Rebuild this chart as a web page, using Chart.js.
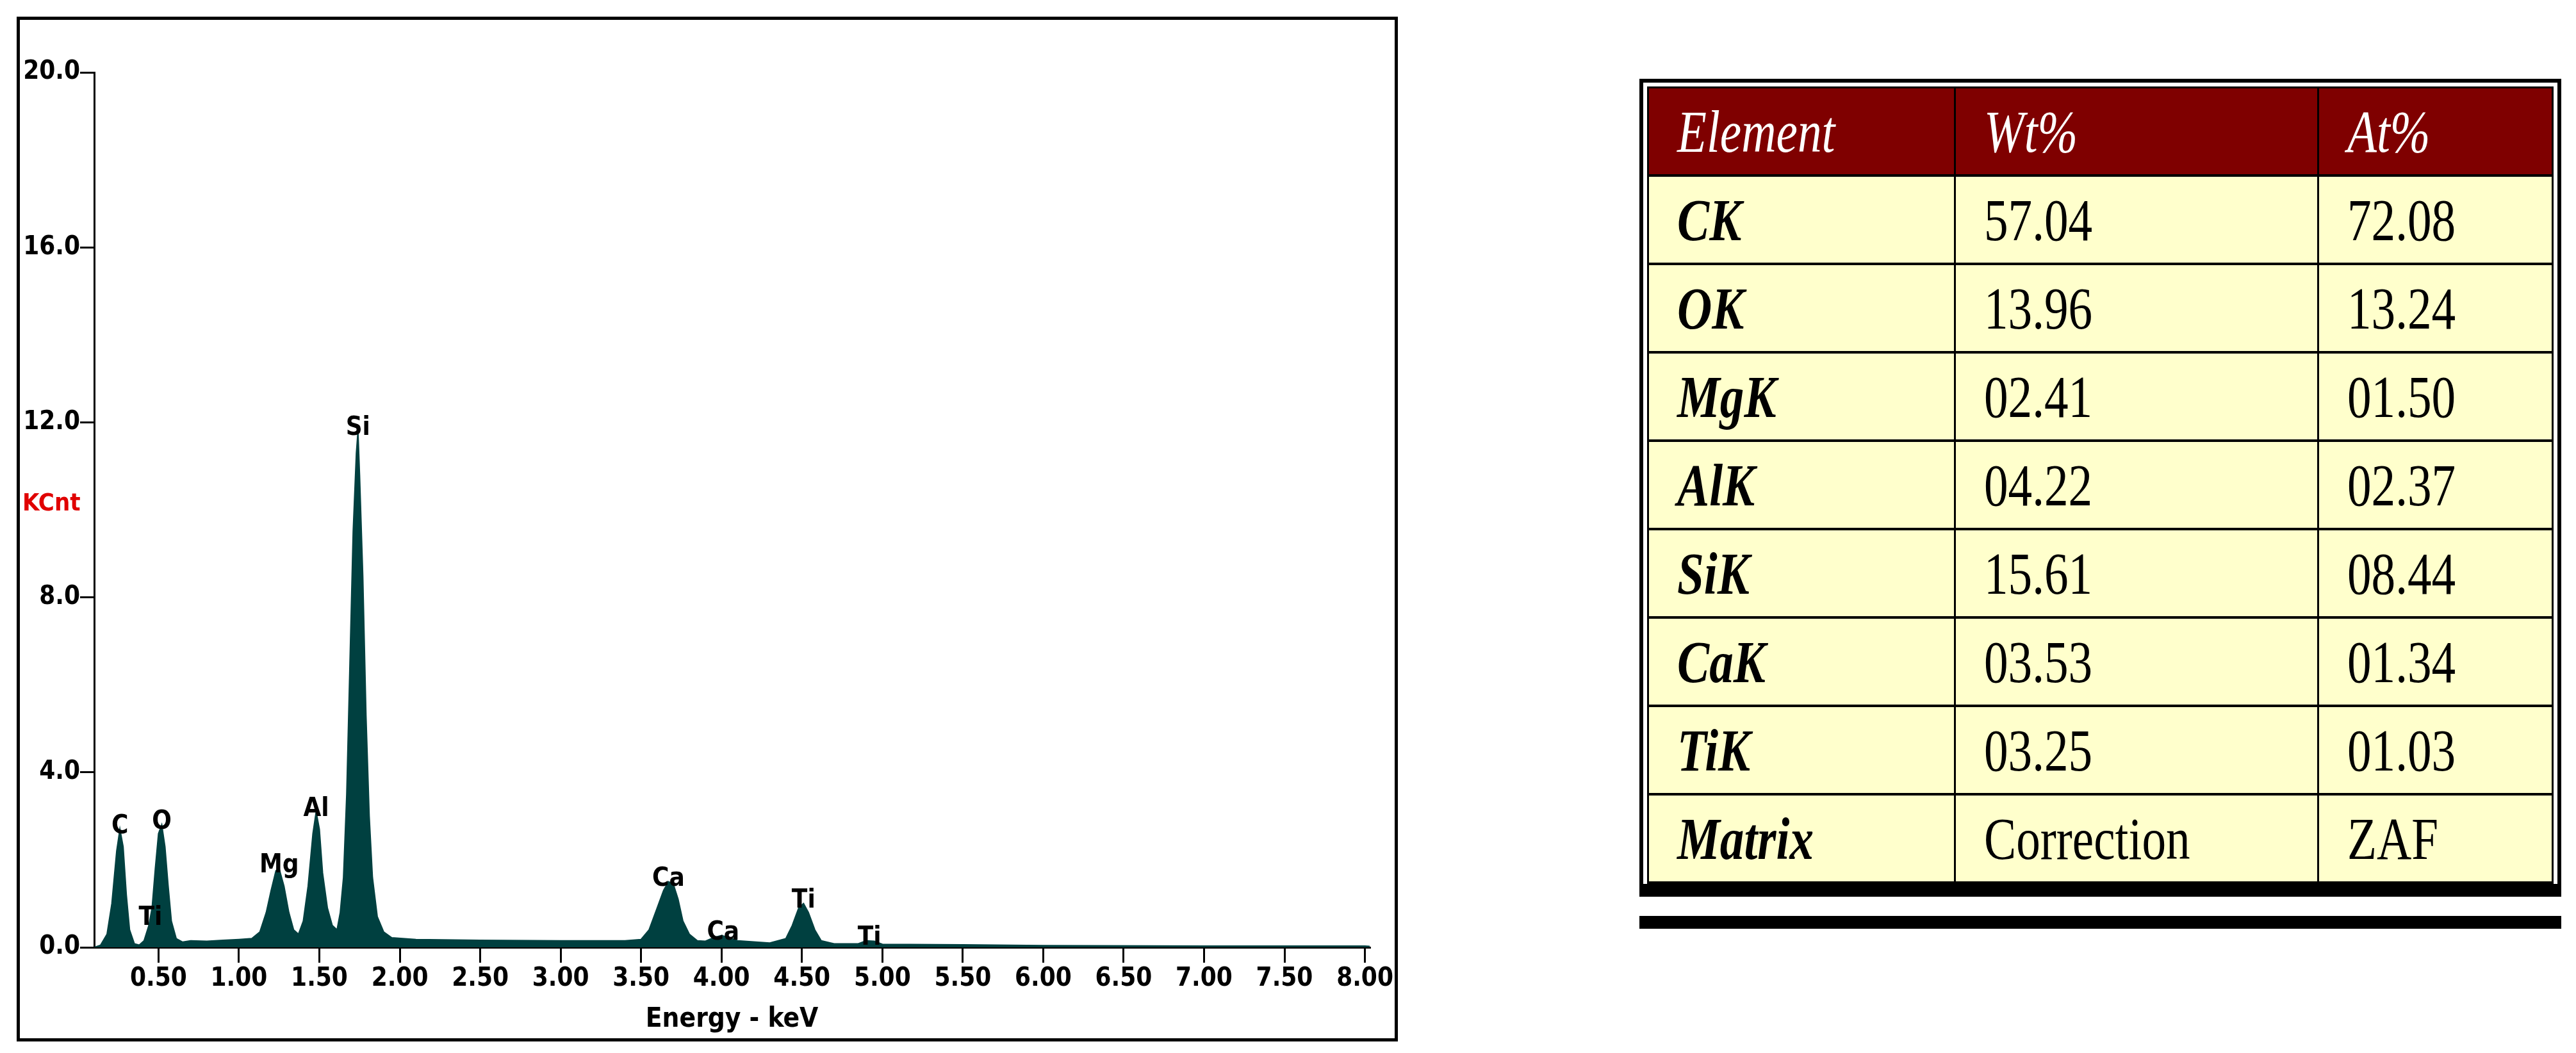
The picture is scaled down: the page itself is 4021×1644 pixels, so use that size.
<!DOCTYPE html>
<html><head><meta charset="utf-8">
<script src="https://cdn.jsdelivr.net/npm/chart.js@4/dist/chart.umd.min.js"></script>
<style>
body{margin:0;background:#fff;width:4021px;height:1644px;position:relative;overflow:hidden}
#frame{position:absolute;left:26px;top:26px;width:2146px;height:1590px;border:5px solid #000}
#tw{position:absolute;left:2559px;top:123px;width:1415px;border:6px solid #000;border-bottom:20px solid #000;padding:6px 6px 0 6px;background:#fff}
#bar2{position:absolute;left:2559px;top:1430px;width:1439px;height:20px;background:#000}
table{border-collapse:collapse;width:100%;font-family:"Liberation Serif",serif;font-size:94px;line-height:1}
td{border:3px solid #000;height:134px;padding:0 0 0 44px;background:#ffffcc;color:#000;white-space:nowrap}
tr{border-bottom:4px solid #000}
th{background:#7f0000;color:#fff;font-style:italic;font-weight:normal;text-align:left;padding:0 0 0 44px;height:134px;border:3px solid #000}
td:first-child{font-style:italic;font-weight:bold}
span{display:inline-block;transform:scaleX(0.8);transform-origin:left center}
</style></head><body>
<div id="frame"><canvas id="c" width="2146" height="1590"></canvas></div>
<div id="tw"><table id="t"></table></div>
<div id="bar2"></div>
<script>
const energy=[0.10,0.14,0.18,0.21,0.24,0.26,0.28,0.30,0.32,0.35,0.38,0.41,0.44,0.46,0.48,0.50,0.52,0.54,0.56,0.58,0.61,0.65,0.70,0.80,0.90,1.00,1.08,1.13,1.17,1.20,1.23,1.25,1.28,1.31,1.34,1.37,1.40,1.43,1.46,1.48,1.50,1.52,1.55,1.58,1.61,1.63,1.65,1.67,1.69,1.71,1.73,1.74,1.75,1.77,1.79,1.81,1.83,1.86,1.90,1.95,2.10,2.50,3.00,3.40,3.50,3.55,3.60,3.64,3.67,3.70,3.73,3.76,3.80,3.85,3.90,3.95,4.00,4.05,4.10,4.30,4.40,4.44,4.48,4.51,4.54,4.58,4.62,4.70,4.85,4.90,4.95,5.00,5.50,6.00,7.00,8.00,8.03];
const counts=[0.0,0.05,0.3,1.0,2.2,2.7,2.3,1.2,0.4,0.08,0.05,0.15,0.5,0.9,1.8,2.6,2.8,2.3,1.4,0.6,0.2,0.12,0.15,0.14,0.16,0.18,0.2,0.35,0.8,1.3,1.75,1.8,1.4,0.8,0.4,0.3,0.6,1.4,2.6,3.1,2.7,1.7,0.9,0.5,0.4,0.8,1.6,3.5,6.5,9.5,11.3,11.8,10.8,8.5,5.3,3.0,1.6,0.7,0.35,0.22,0.18,0.16,0.15,0.15,0.18,0.4,0.9,1.3,1.5,1.45,1.1,0.6,0.3,0.15,0.14,0.22,0.27,0.22,0.15,0.1,0.2,0.5,0.9,1.0,0.8,0.4,0.15,0.08,0.08,0.15,0.14,0.07,0.06,0.04,0.03,0.03,0.02];
const peakNames=["C","Ti","O","Mg","Al","Si","Ca","Ca","Ti","Ti"];
const peakE=[0.26,0.45,0.52,1.25,1.48,1.74,3.67,4.01,4.51,4.92];
const peakH=[2.7,0.6,2.8,1.8,3.1,11.8,1.5,0.27,1.0,0.15];
const yTicks=[0,4,8,12,16,20];
const xTicks=[0.5,1,1.5,2,2.5,3,3.5,4,4.5,5,5.5,6,6.5,7,7.5,8];
const headers=["Element","Wt%","At%"];
const elements=["CK","OK","MgK","AlK","SiK","CaK","TiK","Matrix"];
const wt=["57.04","13.96","02.41","04.22","15.61","03.53","03.25","Correction"];
const at=["72.08","13.24","01.50","02.37","08.44","01.34","01.03","ZAF"];

const t=document.getElementById('t');
let h='<tr>'+headers.map((x,i)=>`<th style="width:${[432,520,0][i]||''}px"><span>${x}</span></th>`).join('')+'</tr>';
elements.forEach((e,i)=>{h+=`<tr><td><span>${e}</span></td><td><span>${wt[i]}</span></td><td><span>${at[i]}</span></td></tr>`});
t.innerHTML=h;

const F='"DejaVu Sans Condensed","Liberation Sans Narrow",sans-serif';
const labels={id:'lbl',afterDatasetsDraw(ch){const c=ch.ctx,x=ch.scales.x,y=ch.scales.y;c.save();c.fillStyle='#000';c.font='bold 40px '+F;c.textAlign='center';c.textBaseline='bottom';
peakNames.forEach((n,i)=>{c.fillText(n,x.getPixelForValue(peakE[i]),y.getPixelForValue(peakH[i])+16)});
c.fillStyle='#e00000';c.font='bold 38px '+F;c.textAlign='left';c.textBaseline='middle';c.fillText('KCnt',4,756);c.restore();}};
new Chart(document.getElementById('c'),{type:'line',
data:{datasets:[{data:energy.map((e,i)=>({x:e,y:counts[i]})),borderColor:'#004040',backgroundColor:'#004040',fill:'origin',pointRadius:0,borderWidth:2,tension:0}]},
options:{responsive:false,animation:false,layout:{padding:{top:82,right:17,left:0,bottom:0}},
plugins:{legend:{display:false},tooltip:{enabled:false}},
scales:{
x:{type:'linear',min:0.1,max:8.03,afterFit(s){s.height=142},afterBuildTicks(s){s.ticks=xTicks.map(v=>({value:v}))},
 grid:{drawOnChartArea:false,tickLength:24,color:'#000',lineWidth:3},border:{color:'#000',width:3},
 ticks:{color:'#000',font:{family:F,size:40,weight:'bold'},maxRotation:0,autoSkip:false,padding:2,callback:v=>v.toFixed(2)},
 title:{display:true,text:'Energy - keV',color:'#000',font:{family:F,size:42,weight:'bold'},padding:{top:0}}},
y:{min:0,max:20,afterFit(s){s.width=116},afterBuildTicks(s){s.ticks=yTicks.map(v=>({value:v}))},
 grid:{drawOnChartArea:false,tickLength:22,color:'#000',lineWidth:3},border:{color:'#000',width:3},
 ticks:{color:'#000',font:{family:F,size:40,weight:'bold'},padding:0,callback:v=>v.toFixed(1)}}}},
plugins:[labels]});
</script></body></html>
